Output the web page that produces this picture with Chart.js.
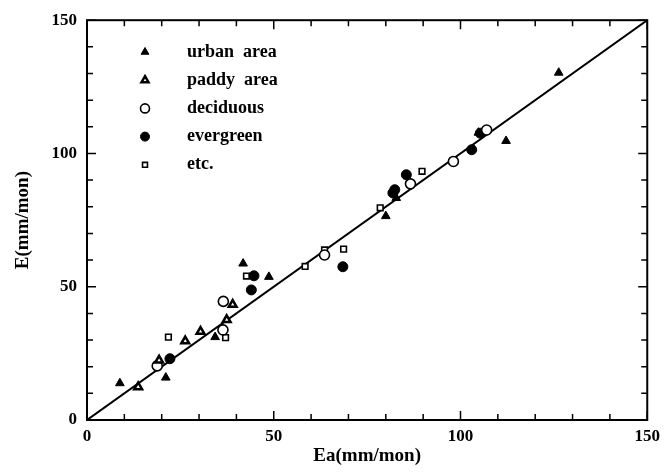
<!DOCTYPE html>
<html>
<head>
<meta charset="utf-8">
<script src="https://cdn.jsdelivr.net/npm/chart.js@4/dist/chart.umd.min.js"></script>
<style>
  html, body { margin: 0; padding: 0; background: #fff; }
  #wrap { width: 666px; height: 472px; position: relative; }
</style>
</head>
<body>
<div id="wrap"><canvas id="chart"></canvas></div>
<script>
// values (Ea vs E, mm/mon)
const urbanX = [8.8, 21.1, 34.3, 41.8, 48.7, 80.0, 82.8, 104.8, 112.2, 126.3];
const urbanY = [13.8, 15.9, 31.1, 58.7, 53.7, 76.5, 83.3, 107.8, 104.7, 130.3];

const paddyX = [13.7, 19.3, 26.3, 30.4, 37.4, 39.0];
const paddyY = [12.4, 22.4, 29.6, 33.2, 37.6, 43.3];

const deciduousX = [18.8, 36.4, 36.5, 63.6, 86.6, 98.1, 107.0];
const deciduousY = [20.3, 33.8, 44.5, 61.9, 88.6, 97.0, 108.8];

const evergreenX = [22.2, 44.7, 44.0, 68.5, 82.4, 81.9, 85.5, 103.0, 105.3];
const evergreenY = [23.0, 54.1, 48.8, 57.5, 86.4, 85.2, 92.0, 101.4, 107.6];

const etcX = [21.8, 37.1, 42.7, 58.4, 63.6, 68.7, 78.5, 89.7];
const etcY = [31.1, 30.9, 54.0, 57.6, 63.8, 64.1, 79.6, 93.3];

const lineX = [0, 150];
const lineY = [0, 150];

const axisTicks = [0, 50, 100, 150];

const SERIF = '"Liberation Serif", "DejaVu Serif", serif';

function pts(xs, ys) {
    return xs.map((x, i) => ({ x: x, y: ys[i] }));
}

// frame + inward ticks on all four sides
const frameTicks = {
    id: 'frameTicks',
    afterDraw(chart) {
        const { ctx, chartArea: a, scales } = chart;
        ctx.save();
        ctx.strokeStyle = '#000';
        ctx.lineWidth = 2;
        ctx.strokeRect(a.left, a.top, a.right - a.left, a.bottom - a.top);
        ctx.lineWidth = 1.5;
        for (let v = 0; v <= 150; v += 10) {
            const len = v % 50 === 0 ? 9 : 6;
            const px = scales.x.getPixelForValue(v);
            const py = scales.y.getPixelForValue(v);
            ctx.beginPath();
            ctx.moveTo(px, a.bottom); ctx.lineTo(px, a.bottom - len);
            ctx.moveTo(px, a.top); ctx.lineTo(px, a.top + len);
            ctx.moveTo(a.left, py); ctx.lineTo(a.left + len, py);
            ctx.moveTo(a.right, py); ctx.lineTo(a.right - len, py);
            ctx.stroke();
        }
        ctx.restore();
    }
};

// legend drawn inside the plot, upper left
const innerLegend = {
    id: 'innerLegend',
    afterDraw(chart) {
        const { ctx } = chart;
        const names = ['urban  area', 'paddy  area', 'deciduous', 'evergreen', 'etc.'];
        ctx.save();
        ctx.font = 'bold 18px ' + SERIF;
        ctx.textBaseline = 'middle';
        names.forEach((name, i) => {
            const ds = chart.data.datasets[i];
            const y = 52 + i * 28.2;
            ctx.fillStyle = ds.backgroundColor;
            ctx.strokeStyle = '#000';
            ctx.lineWidth = ds.borderWidth;
            Chart.helpers.drawPoint(ctx, {
                pointStyle: ds.pointStyle,
                radius: ds.pointRadius - 0.5,
                borderWidth: ds.borderWidth,
                rotation: 0
            }, 145, y);
            ctx.fillStyle = '#000';
            ctx.fillText(name, 187, y);
        });
        ctx.restore();
    }
};

function marker(label, data, style, fill, radius, bw) {
    return {
        type: 'scatter',
        label: label,
        data: data,
        pointStyle: style,
        pointRadius: radius,
        pointHoverRadius: radius,
        backgroundColor: fill,
        borderColor: '#000',
        borderWidth: bw
    };
}

const chart = new Chart(document.getElementById('chart'), {
    data: {
        datasets: [
            marker('urban area', pts(urbanX, urbanY), 'triangle', '#000', 5, 1),
            marker('paddy area', pts(paddyX, paddyY), 'triangle', '#fff', 4.5, 2.5),
            marker('deciduous', pts(deciduousX, deciduousY), 'circle', '#fff', 5, 1.6),
            marker('evergreen', pts(evergreenX, evergreenY), 'circle', '#000', 5, 1),
            marker('etc.', pts(etcX, etcY), 'rect', '#fff', 4, 1.6),
            {
                type: 'line',
                label: '1:1',
                data: pts(lineX, lineY),
                borderColor: '#000',
                borderWidth: 2,
                pointRadius: 0,
                fill: false
            }
        ]
    },
    options: {
        responsive: true,
        maintainAspectRatio: false,
        animation: false,
        layout: { padding: { top: 18, right: 18, left: 0, bottom: 5 } },
        plugins: {
            legend: { display: false },
            tooltip: { enabled: false }
        },
        scales: {
            x: {
                type: 'linear',
                min: 0,
                max: 150,
                afterBuildTicks: s => { s.ticks = axisTicks.map(v => ({ value: v })); },
                afterFit: s => { s.height = 47; },
                grid: { display: false, drawTicks: false },
                border: { display: false },
                ticks: {
                    padding: 6,
                    color: '#000',
                    font: { family: SERIF, size: 17, weight: 'bold' }
                },
                title: {
                    display: true,
                    text: 'Ea(mm/mon)',
                    color: '#000',
                    padding: { top: 0, bottom: 0 },
                    font: { family: SERIF, size: 19, weight: 'bold' }
                }
            },
            y: {
                type: 'linear',
                min: 0,
                max: 150,
                afterBuildTicks: s => { s.ticks = axisTicks.map(v => ({ value: v })); },
                afterFit: s => { s.width = 87; },
                grid: { display: false, drawTicks: false },
                border: { display: false },
                ticks: {
                    padding: 10,
                    color: '#000',
                    font: { family: SERIF, size: 17, weight: 'bold' }
                },
                title: {
                    display: true,
                    text: 'E(mm/mon)',
                    color: '#000',
                    padding: { top: 12, bottom: 0 },
                    font: { family: SERIF, size: 19, weight: 'bold' }
                }
            }
        }
    },
    plugins: [frameTicks, innerLegend]
});
</script>
</body>
</html>
